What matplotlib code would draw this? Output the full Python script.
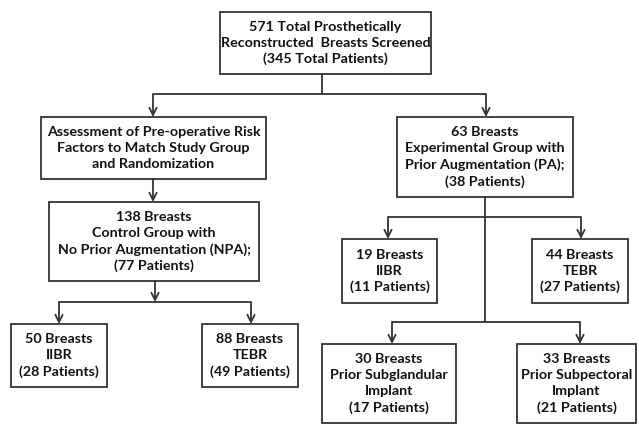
import matplotlib.pyplot as plt

# --- Box texts ---
TOP_TEXT = "571 Total Prosthetically\nReconstructed  Breasts Screened\n(345 Total Patients)"
ASSESS_TEXT = "Assessment of Pre-operative Risk\nFactors to Match Study Group\nand Randomization"
NPA_TEXT = "138 Breasts\nControl Group with\nNo Prior Augmentation (NPA);\n(77 Patients)"
PA_TEXT = "63 Breasts\nExperimental Group with\nPrior Augmentation (PA);\n(38 Patients)"
NPA_IIBR_TEXT = "50 Breasts\nIIBR\n(28 Patients)"
NPA_TEBR_TEXT = "88 Breasts\nTEBR\n(49 Patients)"
PA_IIBR_TEXT = "19 Breasts\nIIBR\n(11 Patients)"
PA_TEBR_TEXT = "44 Breasts\nTEBR\n(27 Patients)"
SUBGL_TEXT = "30 Breasts\nPrior Subglandular\nImplant\n(17 Patients)"
SUBPEC_TEXT = "33 Breasts\nPrior Subpectoral\nImplant\n(21 Patients)"

# --- Layout in pixels (left, top, right, bottom) ---
BOXES = {
    "top": (220, 12, 431, 74, TOP_TEXT),
    "assess": (41, 117, 266, 179, ASSESS_TEXT),
    "npa": (49, 202, 259, 281, NPA_TEXT),
    "pa": (397, 117, 573, 197, PA_TEXT),
    "npa_iibr": (11, 324, 107, 387, NPA_IIBR_TEXT),
    "npa_tebr": (202, 324, 298, 387, NPA_TEBR_TEXT),
    "pa_iibr": (342, 239, 437, 303, PA_IIBR_TEXT),
    "pa_tebr": (532, 239, 628, 303, PA_TEBR_TEXT),
    "subgl": (322, 344, 456, 423, SUBGL_TEXT),
    "subpec": (517, 344, 636, 423, SUBPEC_TEXT),
}

LINE_COLOR = "#333333"
FONT = ["Lato", "DejaVu Sans"]

fig = plt.figure(figsize=(6.39, 4.25), dpi=100)
ax = fig.add_axes([0, 0, 1, 1])
ax.set_xlim(0, 639)
ax.set_ylim(425, 0)
ax.axis("off")


def draw_box(left, top, right, bottom, text):
    ax.add_patch(plt.Rectangle((left, top), right - left, bottom - top,
                               fill=False, edgecolor=LINE_COLOR, linewidth=1.3))
    ax.text((left + right) / 2, (top + bottom) / 2, text, ha="center", va="center",
            fontsize=10.3, fontweight="bold", family=FONT, color="#111111",
            linespacing=1.4)


def line(x0, y0, x1, y1):
    ax.plot([x0, x1], [y0, y1], color=LINE_COLOR, linewidth=1.3,
            solid_capstyle="butt")


def arrow(x0, y0, x1, y1):
    ax.annotate("", xy=(x1, y1), xytext=(x0, y0),
                arrowprops=dict(arrowstyle="->", color=LINE_COLOR, lw=1.3,
                                shrinkA=0, shrinkB=0, mutation_scale=13))


for left, top, right, bottom, text in BOXES.values():
    draw_box(left, top, right, bottom, text)

# top split
line(322, 74, 322, 94)
line(153, 94, 486, 94)
arrow(153, 94, 153, 117)
arrow(486, 94, 486, 117)

# control branch
arrow(153, 179, 153, 202)
arrow(155, 281, 155, 302)
line(59, 302, 251, 302)
arrow(59, 302, 59, 324)
arrow(251, 302, 251, 324)

# experimental branch
line(485, 197, 485, 322)
line(388, 217, 581, 217)
arrow(388, 217, 388, 239)
arrow(581, 217, 581, 239)
line(392, 322, 580, 322)
arrow(392, 322, 392, 344)
arrow(580, 322, 580, 344)

fig.savefig("out.png", dpi=100)
